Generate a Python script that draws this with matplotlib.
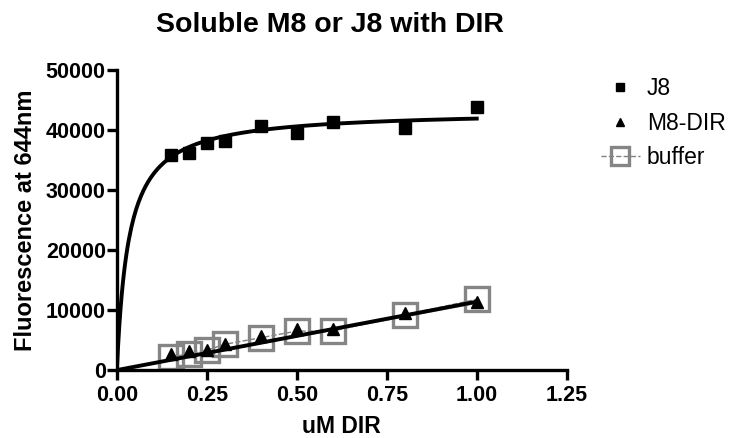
import numpy as np
import matplotlib.pyplot as plt

plt.rcParams['font.family'] = ['Liberation Sans', 'DejaVu Sans']

# ---------- DATOS ----------
dir_um = [0.15, 0.2, 0.25, 0.3, 0.4, 0.5, 0.6, 0.8, 1.0]
j8 = [35800, 36100, 37800, 38200, 40700, 39500, 41400, 40400, 43900]
m8_dir = [2700, 3200, 3300, 4300, 5700, 6800, 6900, 9600, 11300]
buffer_vals = [2200, 2700, 3300, 4300, 5400, 6500, 6500, 9200, 11800]

# parametros de ajuste
j8_bmax = 43300
j8_kd = 0.033
m8_slope = 11400
buffer_slope = 11200

titulo = 'Soluble M8 or J8 with DIR'
xticks = [0.0, 0.25, 0.5, 0.75, 1.0, 1.25]
yticks = [0, 10000, 20000, 30000, 40000, 50000]

# ---------- GRAFICAR ----------
fig = plt.figure(figsize=(7.35, 4.38), dpi=100)
ax = fig.add_axes([0.159, 0.155, 0.612, 0.685])

xf = np.linspace(0, 1.0, 300)
ax.plot(xf, j8_bmax * xf / (j8_kd + xf), color='black', lw=2.8, zorder=3)
ax.plot(xf, m8_slope * xf, color='black', lw=2.8, zorder=3)
ax.plot(xf, buffer_slope * xf, color='#808080', lw=1.5, zorder=2)

ax.plot(dir_um, j8, linestyle='none', marker='s', ms=8, color='black',
        label='J8', zorder=4)
ax.plot(dir_um, m8_dir, linestyle='none', marker='^', ms=8, color='black',
        label='M8-DIR', zorder=4)
ax.plot(dir_um, buffer_vals, linestyle='--', lw=1, color='#808080',
        marker='s', ms=17, mfc='none', mec='#858585', mew=2.4,
        label='buffer', zorder=1)

ax.set_xlim(0, 1.25)
ax.set_ylim(0, 50000)
ax.set_xticks(xticks)
ax.set_xticklabels(['%.2f' % t for t in xticks])
ax.set_yticks(yticks)
ax.set_yticklabels([str(t) for t in yticks])

for s in ['top', 'right']:
    ax.spines[s].set_visible(False)
for s in ['left', 'bottom']:
    ax.spines[s].set_linewidth(2.4)
ax.tick_params(direction='out', length=7, width=2.4, labelsize=15.5)
ax.tick_params(axis='x', pad=4)
ax.tick_params(axis='y', pad=1)
for lab in ax.get_xticklabels() + ax.get_yticklabels():
    lab.set_fontweight('bold')

fig.text(330 / 735, 1 - 25 / 438, titulo, fontsize=20.5, fontweight='bold',
         ha='center', va='center')
ax.set_xlabel('uM DIR', fontsize=16.5, fontweight='bold', labelpad=6.5)
ax.set_ylabel('Fluorescence at 644nm', fontsize=17, fontweight='bold', labelpad=6)

ax.legend(loc='upper left', bbox_to_anchor=(1.03, 1.045), frameon=False,
          fontsize=16.5, handlelength=1.7, handletextpad=0.3, labelspacing=0.5,
          markerscale=0.8)

fig.savefig('out.png', dpi=100)
